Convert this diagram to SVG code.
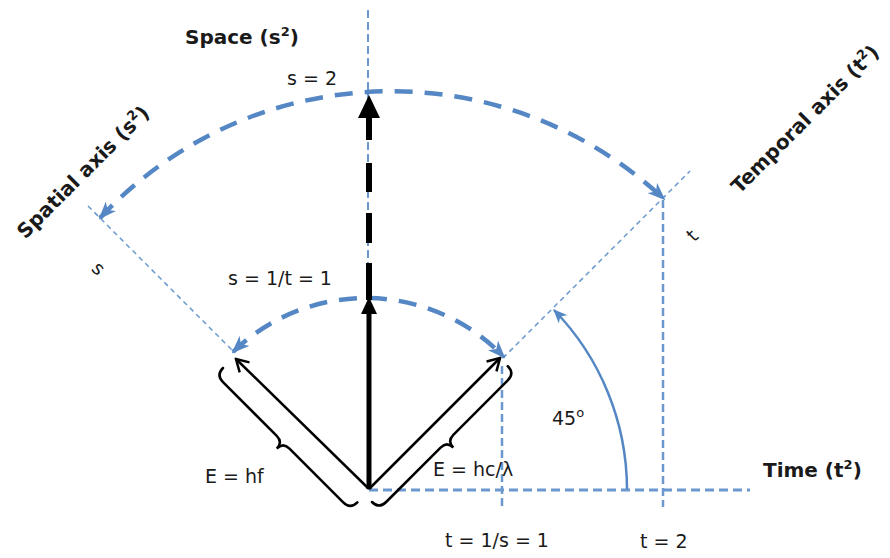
<svg xmlns="http://www.w3.org/2000/svg" width="890" height="558" viewBox="0 0 890 558">
<style>
.lbl{font-family:"DejaVu Sans","Liberation Sans",sans-serif;font-size:19px;fill:#1a1a1a}
.bold{font-weight:bold;font-size:20px}
.thin{fill:none;stroke:#6a98cf;stroke-width:1.5;stroke-dasharray:5 4}
.axis{fill:none;stroke:#6a98cf;stroke-width:2.5;stroke-dasharray:8 4}
.arc{fill:none;stroke:#5487c4;stroke-width:4.5;stroke-dasharray:18 12;marker-start:url(#ba);marker-end:url(#ba)}
.vec{fill:none;stroke:#000;stroke-width:2.5;marker-end:url(#open)}
.brace{fill:none;stroke:#000;stroke-width:2.5;stroke-linecap:round}
</style>
<defs>
<marker id="ba" markerUnits="userSpaceOnUse" markerWidth="18" markerHeight="14" viewBox="0 0 18 14" refX="16" refY="7" orient="auto-start-reverse"><path d="M0,0 L18,7 L0,14 L5,7 z" fill="#5487c4"/></marker>
<marker id="sa" markerUnits="userSpaceOnUse" markerWidth="14" markerHeight="12" viewBox="0 0 14 12" refX="13" refY="6" orient="auto"><path d="M0,0 L14,6 L0,12 L4,6 z" fill="#5487c4"/></marker>
<marker id="open" markerUnits="userSpaceOnUse" markerWidth="16" markerHeight="16" viewBox="0 0 16 16" refX="14" refY="8" orient="auto"><path d="M2,1 L14,8 L2,15" fill="none" stroke="#000" stroke-width="2.5"/></marker>
</defs>

<g id="axes">
<line class="axis" x1="368" y1="10" x2="368" y2="489" style="stroke-width:2"/>
<line class="axis" x1="369" y1="490" x2="750" y2="490" style="stroke-width:3;stroke-dasharray:9 5"/>
<line class="axis" x1="502" y1="366" x2="502" y2="507"/>
<line class="axis" x1="663" y1="200" x2="663" y2="507"/>
<line class="thin" x1="88" y1="206" x2="233" y2="351"/>
<line class="thin" x1="503" y1="358" x2="690" y2="171"/>
</g>

<g id="connectors">
<path class="arc" d="M100,218 A399,399 0 0 1 664,199"/>
<path class="arc" d="M233,352 A191,191 0 0 1 504,357"/>
<path d="M627,489 A258,258 0 0 0 554,310" fill="none" stroke="#5487c4" stroke-width="2.5" marker-end="url(#sa)"/>
<line class="vec" x1="369" y1="489" x2="236" y2="359"/>
<line class="vec" x1="369" y1="489" x2="500" y2="358"/>
<line x1="369" y1="489" x2="369" y2="312" stroke="#000" stroke-width="5"/>
<polygon points="369,297 361,314 377,314" fill="#000"/>
<path d="M369,300 V263 M369,243 V213 M369,192 V163 M369,140 V116" stroke="#000" stroke-width="6" fill="none"/>
<polygon points="369,95 358,118 380,118" fill="#000"/>
</g>

<g id="braces">
<path class="brace" transform="translate(223,368) rotate(45)" d="M0,0 C0,6 3,10 10,10 L86,10 C92,10 95,13 95,19 C95,13 98,10 104,10 L180,10 C187,10 190,6 190,0"/>
<path class="brace" transform="translate(372,502) rotate(-45)" d="M0,0 C0,6 3,10 10,10 L87,10 C93,10 96,13 96,19 C96,13 99,10 105,10 L182,10 C189,10 192,6 192,0"/>
</g>

<g id="labels">
<text class="lbl bold" x="185" y="44">Space (s<tspan dy="-8" font-size="13">2</tspan><tspan dy="8">)</tspan></text>
<text class="lbl" x="287" y="85">s = 2</text>
<text class="lbl" x="228" y="285">s = 1/t = 1</text>
<text class="lbl" x="205" y="483" font-size="17">E = hf</text>
<text class="lbl" x="433" y="476" font-size="18">E = hc/λ</text>
<text class="lbl" x="445" y="547">t = 1/s = 1</text>
<text class="lbl" x="640" y="548">t = 2</text>
<text class="lbl" x="552" y="425">45<tspan dy="-8" font-size="13">o</tspan></text>
<text class="lbl bold" x="763" y="477">Time (t<tspan dy="-8" font-size="13">2</tspan><tspan dy="8">)</tspan></text>
<text class="lbl bold" text-anchor="middle" transform="translate(88,177) rotate(-45)">Spatial axis (s<tspan dy="-8" font-size="13">2</tspan><tspan dy="8">)</tspan></text>
<text class="lbl bold" text-anchor="middle" transform="translate(810,124) rotate(-45)">Temporal axis (t<tspan dy="-8" font-size="13">2</tspan><tspan dy="8">)</tspan></text>
<text class="lbl" font-size="19" text-anchor="middle" transform="translate(94,273) rotate(45)">s</text>
<text class="lbl" font-size="19" text-anchor="middle" transform="translate(697,240) rotate(-45)">t</text>
</g>
</svg>
